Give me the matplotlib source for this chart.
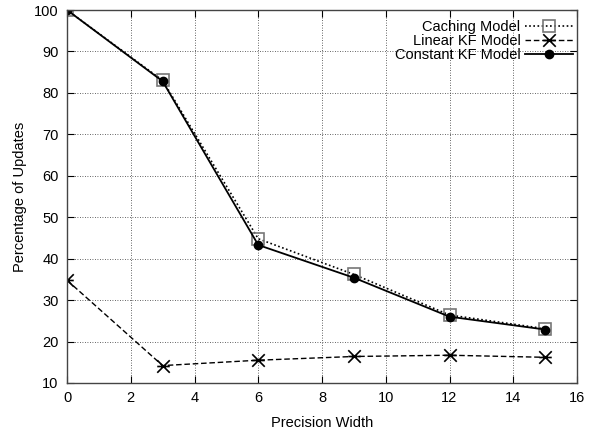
import numpy as np
import matplotlib
matplotlib.use("Agg")
import matplotlib.pyplot as plt
from matplotlib.path import Path

plt.rcParams['font.family'] = ['Liberation Sans', 'DejaVu Sans']

width = [0, 3, 6, 9, 12, 15]
caching = [100, 83.0, 44.8, 36.2, 26.4, 23.1]
linear_kf = [34.8, 14.2, 15.5, 16.4, 16.7, 16.2]
constant_kf = [100, 82.8, 43.3, 35.4, 26.0, 22.9]

# asterisk like gnuplot pt 3: X with a horizontal bar
star = Path([(-1, -1), (1, 1), (-1, 1), (1, -1), (-1, 0), (1, 0)],
            [Path.MOVETO, Path.LINETO, Path.MOVETO, Path.LINETO, Path.MOVETO, Path.LINETO])

fig = plt.figure(figsize=(6.09, 4.33), dpi=100)
ax = fig.add_axes([67/609, 1-383/433, (577-67)/609, (383-10)/433])

ax.plot(width, caching, color='black', linestyle=(0, (1, 1.5)), linewidth=1.2,
        marker='s', markersize=9, markerfacecolor='none', markeredgecolor='#777777',
        markeredgewidth=1.2, label='Caching Model')
ax.plot(width, linear_kf, color='black', linestyle=(0, (4, 2)), linewidth=1.0,
        marker=star, markersize=9, markeredgewidth=1.2, label='Linear KF Model')
ax.plot(width, constant_kf, color='black', linestyle='-', linewidth=1.3,
        marker='o', markersize=6, label='Constant KF Model')

ax.set_xlim(0, 16)
ax.set_ylim(10, 100)
ax.set_xticks(np.arange(0, 17, 2))
ax.set_yticks(np.arange(10, 101, 10))
ax.grid(True, color='#333333', linestyle=(0, (1, 2)), linewidth=0.6)
ax.tick_params(direction='in', top=True, right=True, length=5, labelsize=10.5, pad=6)
for s in ax.spines.values():
    s.set_linewidth(1.0)
    s.set_color('#444444')

ax.set_xlabel('Precision Width', fontsize=10.5, labelpad=8)
ax.set_ylabel('Percentage of Updates', fontsize=10.5, labelpad=5)

leg = ax.legend(loc='upper right', bbox_to_anchor=(1.012, 1.0), frameon=False,
                markerfirst=False, fontsize=10.5,
                handlelength=3.3, handletextpad=0.3, labelspacing=0.0,
                borderaxespad=0.0, borderpad=0.7, alignment='right')
for t in leg.get_texts():
    t.set_ha('right')

fig.savefig('out.png', dpi=100)
